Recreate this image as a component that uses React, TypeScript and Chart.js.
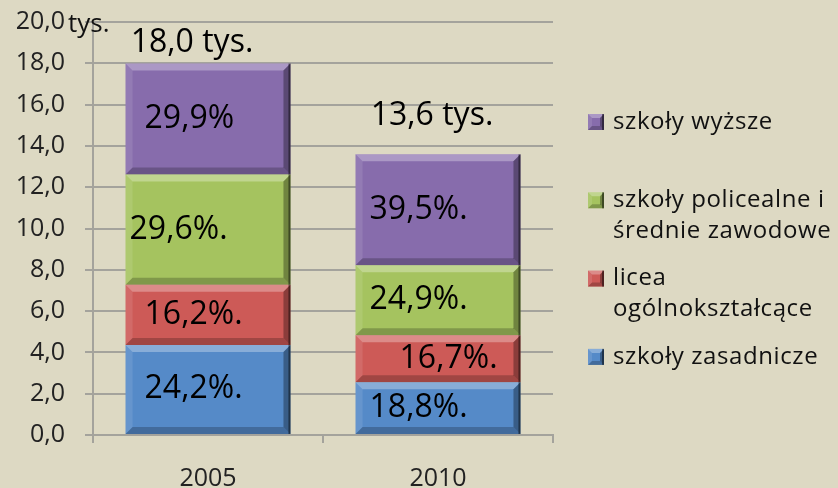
import React, { useEffect, useRef } from "react";
import { Chart, registerables } from "chart.js";

Chart.register(...registerables);

// ---- data ----
const categories = ["2005", "2010"];
const totalLabels = ["18,0 tys.", "13,6 tys."];
const seriesNames = [
  "szkoły zasadnicze",
  "licea ogólnokształcące",
  "szkoły policealne i średnie zawodowe",
  "szkoły wyższe",
];
const zasadnicze = [4.36, 2.56];
const licea = [2.92, 2.27];
const policealne = [5.33, 3.39];
const wyzsze = [5.38, 5.37];
const zasadniczeLabels = ["24,2%.", "18,8%."];
const liceaLabels = ["16,2%.", "16,7%."];
const policealneLabels = ["29,6%.", "24,9%."];
const wyzszeLabels = ["29,9%", "39,5%."];
const legendLines = [
  ["szkoły wyższe"],
  ["szkoły policealne i", "średnie zawodowe"],
  ["licea", "ogólnokształcące"],
  ["szkoły zasadnicze"],
];
const yMin = 0;
const yMax = 20;
const yStep = 2;
const yUnit = "tys.";

const colors = ["#558AC8", "#CD5A57", "#A5C35F", "#876CAC"];
const FONT = "'Open Sans', Lato, sans-serif";

function bevel(ctx: CanvasRenderingContext2D, L: number, T: number, R: number, B: number, d: number) {
  const poly = (pts: number[][], fill: string) => {
    ctx.beginPath();
    ctx.moveTo(pts[0][0], pts[0][1]);
    for (let i = 1; i < pts.length; i++) ctx.lineTo(pts[i][0], pts[i][1]);
    ctx.closePath();
    ctx.fillStyle = fill;
    ctx.fill();
  };
  poly([[L, T], [R, T], [R - d, T + d], [L + d, T + d]], "rgba(255,255,255,0.30)");
  poly([[L, T], [L + d, T + d], [L + d, B - d], [L, B]], "rgba(255,255,255,0.10)");
  poly([[L, B], [L + d, B - d], [R - d, B - d], [R, B]], "rgba(0,0,0,0.22)");
  poly([[R, T], [R, B], [R - d, B - d], [R - d, T + d]], "rgba(0,0,0,0.32)");
  ctx.fillStyle = "rgba(0,0,0,0.45)";
  ctx.fillRect(R - 2, T, 2, B - T);
}

const labelArrays = [zasadniczeLabels, liceaLabels, policealneLabels, wyzszeLabels];

const decorPlugin = {
  id: "decor",
  beforeDraw(chart: any) {
    const ctx = chart.ctx;
    ctx.save();
    ctx.fillStyle = "#DDD9C3";
    ctx.fillRect(0, 0, chart.width, chart.height);
    ctx.restore();
  },
  afterDatasetsDraw(chart: any, _args: any, opts: any) {
    const ctx: CanvasRenderingContext2D = chart.ctx;
    ctx.save();
    chart.data.datasets.forEach((ds: any, di: number) => {
      const meta = chart.getDatasetMeta(di);
      meta.data.forEach((el: any, i: number) => {
        const L = el.x - el.width / 2;
        const R = el.x + el.width / 2;
        const T = Math.min(el.y, el.base);
        const B = Math.max(el.y, el.base);
        bevel(ctx, L, T, R, B, 7);
        const key = di + "-" + i;
        const dx = opts.labelNudge[key] ?? 16;
        ctx.font = "32px " + FONT;
        ctx.fillStyle = "#000";
        ctx.textAlign = "left";
        ctx.textBaseline = "alphabetic";
        ctx.fillText(labelArrays[di][i], L + dx, (T + B) / 2 + 9);
      });
    });
    // totals
    const last = chart.getDatasetMeta(chart.data.datasets.length - 1);
    last.data.forEach((el: any, i: number) => {
      const off = opts.totalOffsets[i];
      ctx.font = "32px " + FONT;
      ctx.fillStyle = "#000";
      ctx.textAlign = "center";
      ctx.textBaseline = "middle";
      ctx.fillText(totalLabels[i], el.x + off[0], el.y + off[1]);
    });
    ctx.restore();
  },
  afterDraw(chart: any) {
    const ctx: CanvasRenderingContext2D = chart.ctx;
    const area = chart.chartArea;
    const yScale = chart.scales.y;
    ctx.save();
    // unit label
    ctx.font = "26px " + FONT;
    ctx.fillStyle = "#111";
    ctx.textAlign = "left";
    ctx.textBaseline = "middle";
    ctx.fillText(yUnit, 68, yScale.getPixelForValue(yMax) + 3);
    // legend
    const x0 = area.right + 35;
    legendLines.forEach((lines, k) => {
      const di = chart.data.datasets.length - 1 - k;
      const y = 122 + 78.3 * k;
      ctx.fillStyle = colors[di];
      ctx.fillRect(x0, y - 8, 16, 16);
      bevel(ctx, x0, y - 8, x0 + 16, y + 8, 4);
      ctx.font = "24px " + FONT;
      (ctx as any).letterSpacing = "0.6px";
      ctx.fillStyle = "#111";
      ctx.textAlign = "left";
      ctx.textBaseline = "middle";
      lines.forEach((t, li) => ctx.fillText(t, x0 + 25, y + li * 31));
      (ctx as any).letterSpacing = "0px";
    });
    ctx.restore();
  },
};

export default function App() {
  const ref = useRef<HTMLCanvasElement | null>(null);
  useEffect(() => {
    document.body.style.margin = "0";
    const canvas = ref.current;
    if (!canvas) return;
    const seriesData = [zasadnicze, licea, policealne, wyzsze];
    const chart = new Chart(canvas, {
      type: "bar",
      data: {
        labels: categories,
        datasets: seriesData.map((d, i) => ({
          label: seriesNames[i],
          data: d,
          backgroundColor: colors[i],
          borderWidth: 0,
          categoryPercentage: 1,
          barPercentage: 0.717,
        })),
      },
      plugins: [decorPlugin as any],
      options: {
        responsive: false,
        animation: false,
        layout: { padding: { left: 0, top: 22, right: 285, bottom: 0 } },
        plugins: {
          legend: { display: false },
          tooltip: { enabled: false },
          decor: {
            labelNudge: { "2-0": 4, "1-1": 44, "0-1": 14, "2-1": 14, "3-1": 14, "0-0": 19, "1-0": 19, "3-0": 19 },
            totalOffsets: [[-16, -21], [-6, -38]],
          },
        } as any,
        scales: {
          x: {
            stacked: true,
            grid: { offset: true, drawOnChartArea: false, color: "#A4A39C", lineWidth: 2, tickLength: 8 },
            border: { display: true, color: "#A4A39C", width: 2 },
            ticks: { font: { family: FONT, size: 25 }, color: "#222", padding: 21 },
            afterFit: (s: any) => { s.height = 53; },
          },
          y: {
            stacked: true,
            min: yMin,
            max: yMax,
            ticks: {
              stepSize: yStep,
              font: { family: FONT, size: 25 },
              color: "#222",
              padding: 20,
              callback: (v: any) => Number(v).toFixed(1).replace(".", ","),
            },
            grid: { color: "#A4A39C", lineWidth: 2, tickLength: 8 },
            border: { display: true, color: "#A4A39C", width: 2 },
            afterFit: (s: any) => { s.width = 93; s.paddingTop = 0; s.paddingBottom = 0; },
          },
        },
      },
    });
    return () => chart.destroy();
  }, []);
  return (
    <div style={{ position: "absolute", left: 0, top: 0, width: 838, height: 488, background: "#DDD9C3" }}>
      <canvas ref={ref} width={838} height={488} />
    </div>
  );
}
